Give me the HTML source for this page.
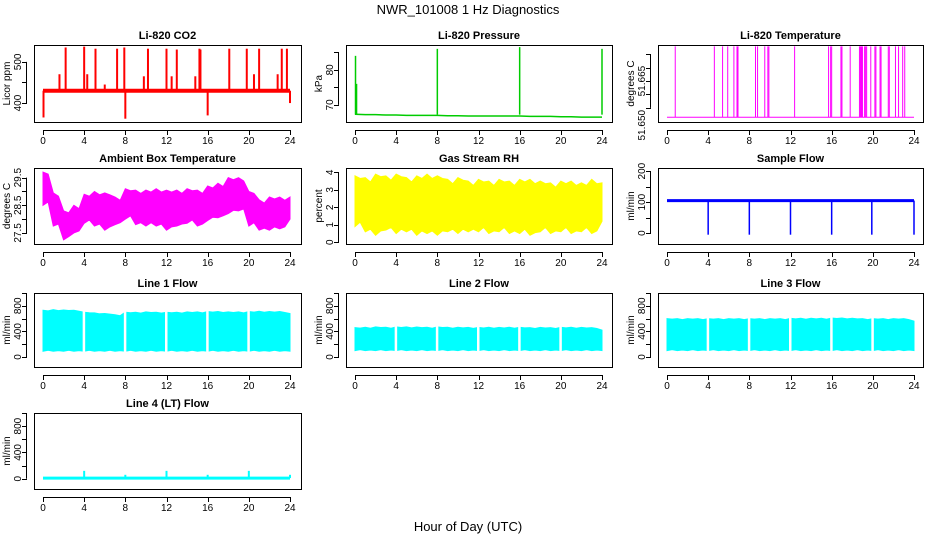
<!DOCTYPE html>
<html><head><meta charset="utf-8"><style>
html,body{margin:0;padding:0;background:#fff}
svg{display:block;font-family:"Liberation Sans",Arial,sans-serif}
</style></head><body>
<svg id="c" width="936" height="540" viewBox="0 0 936 540">
<text x="468" y="14" text-anchor="middle" font-size="13">NWR_101008  1 Hz Diagnostics</text>
<text x="468" y="531" text-anchor="middle" font-size="13">Hour of Day (UTC)</text>
</svg>
<script>
// ---- data arrays ----
const xTicks = [0,4,8,12,16,20,24];
const hours = [0,1,2,3,4,5,6,7,8,9,10,11,12,13,14,15,16,17,18,19,20,21,22,23,24];
// CO2 (ppm)
const co2Base = 430;
const co2SpikeTimes = [0.05,1.6,2.2,4.0,4.3,5.1,6.0,7.2,7.9,8.0,9.8,10.2,12.0,12.5,13.0,14.8,15.2,15.3,16.0,18.1,19.8,20.5,21.0,22.8,23.2,23.7,24.0];
const co2SpikeVals  = [365,470,535,537,470,532,445,532,535,362,465,532,532,465,530,465,532,530,370,532,532,470,532,470,532,532,400];
// Pressure (kPa)
const presBase = [67.3,67.2,67.2,67.1,67.1,67.0,67.0,67.0,67.0,66.9,66.9,66.8,66.8,66.8,66.8,66.8,66.8,66.7,66.7,66.7,66.6,66.6,66.5,66.5,66.5];
const presSpikeTimes = [0.05,0.15,8.0,16.0,24.0];
const presSpikeVals  = [84,76,86,86.5,86];
// Li-820 temperature (deg C)
const tempBase = 51.6515;
const tempSpikeTimes = [0.8,4.6,5.4,5.9,6.5,6.8,6.9,8.6,8.8,9.5,9.8,9.9,12.4,15.7,15.9,16.0,16.9,17.0,17.8,18.7,18.8,18.9,19.0,19.2,19.3,19.4,19.8,20.2,20.3,20.7,20.8,21.5,21.6,22.2,22.5,22.9,23.1];
const tempSpikeVal = 51.678;
// Ambient box temperature hourly envelope
const ambHi = [29.7,28.95,28.3,28.5,28.9,29.0,28.95,28.8,29.1,29.05,29.05,29.1,29.05,29.05,29.1,29.05,29.2,29.3,29.5,29.5,29.0,28.7,28.8,28.8,28.8];
const ambLo = [28.5,27.75,27.25,27.5,27.85,27.75,27.6,27.8,28.0,27.8,27.75,27.75,27.6,27.75,27.85,27.75,27.95,28.05,28.2,28.3,27.75,27.6,27.6,27.65,28.0];
// Gas stream RH hourly envelope (percent)
const rhHi = [3.8,3.7,3.9,3.8,3.9,3.7,3.8,3.9,3.8,3.6,3.7,3.5,3.6,3.5,3.6,3.5,3.6,3.6,3.5,3.4,3.5,3.5,3.4,3.6,3.4];
const rhLo = [0.9,0.6,0.4,0.7,0.5,0.6,0.4,0.5,0.4,0.6,0.5,0.6,0.6,0.5,0.6,0.5,0.5,0.4,0.6,0.5,0.6,0.5,0.6,0.5,1.2];
// Sample flow (ml/min)
const sfBase = 105;
const sfDipTimes = [4.0,8.0,12.0,16.0,19.9,24.0];
const sfDipVals = [-5,-5,-5,-5,-5,-5];
// Line flows (ml/min)
const l1Top = [730,740,735,730,700,690,680,660,700,700,705,700,700,700,705,705,710,710,705,705,710,715,710,710,680];
const l2Top = [460,465,470,465,470,470,468,465,470,465,465,463,462,465,463,465,465,460,462,460,465,465,462,460,420];
const l3Top = [600,600,600,600,600,600,600,600,600,600,600,600,605,605,605,605,610,610,605,600,600,600,600,600,560];
const lineBottom = [90,100,100];
const lineGaps = [4,8,12,16,20];
// Line 4 (LT)
const l4Base = 10;
const l4SpikeTimes = [4,8,12,16,20,24];
const l4SpikeVals = [120,60,120,60,120,60];

// ---- drawing ----
const svg = document.getElementById('c');
const NS = 'http://www.w3.org/2000/svg';
function mk(tag, attrs, parent){
  const e = document.createElementNS(NS, tag);
  for (const k in attrs) e.setAttribute(k, attrs[k]);
  (parent||svg).appendChild(e);
  return e;
}
const cols = [[34,301,43,290],[346,612,355,602],[658,923,667,914]];
const rows = [[45,122],[168,244],[293,367],[413,489]];

function panel(name, col, row, title, ylab, dom, ticks, labels){
  const [bx0,bx1,x0,x1] = cols[col];
  const [by0,by1] = rows[row];
  const g = mk('g', {});
  
  
  const xs = h => x0 + (x1-x0)*h/24;
  const ys = v => by1 - (by1-by0)*(v-dom[0])/(dom[1]-dom[0]);
  const t = mk('text', {x:(bx0+bx1)/2, y:by0-6, 'text-anchor':'middle', 'font-size':11, 'font-weight':'bold'}, g);
  t.textContent = title;
  
  
  const yl = mk('text', {x:0, y:0, 'text-anchor':'middle', 'font-size':10, transform:`translate(${bx0-24},${(by0+by1)/2}) rotate(-90)`}, g);
  yl.textContent = ylab;
  
  
  const plot = mk('g', {}, g);
  
  
  const ax = mk('g', {stroke:'#000','stroke-width':1, fill:'none'}, g);
  
  
  mk('rect', {x:bx0+0.5, y:by0+0.5, width:bx1-bx0, height:by1-by0}, ax);
  mk('line', {x1:xs(0), x2:xs(24), y1:by1+8.5, y2:by1+8.5}, ax);
  xTicks.forEach(h=>{
    mk('line', {x1:Math.round(xs(h))+0.5, x2:Math.round(xs(h))+0.5, y1:by1+8, y2:by1+13}, ax);
    const l = mk('text', {x:xs(h), y:by1+22, 'text-anchor':'middle', 'font-size':10, fill:'#000', stroke:'none'}, g);
    l.textContent = h;
    
    
  });
  mk('line', {x1:bx0-7.5, x2:bx0-7.5, y1:ys(ticks[0]), y2:ys(ticks[ticks.length-1])}, ax);
  ticks.forEach(v=>{
    mk('line', {x1:bx0-12, x2:bx0-7, y1:Math.round(ys(v))+0.5, y2:Math.round(ys(v))+0.5}, ax);
  });
  labels.forEach(([v,s])=>{
    const l = mk('text', {x:0, y:0, 'text-anchor':'middle', 'font-size':10, transform:`translate(${bx0-13},${ys(v)}) rotate(-90)`}, g);
    l.textContent = s;
    
    
  });
  return {xs, ys, plot};
}

function spikes(p, base, times, vals, color, w){
  times.forEach((h,i)=>{
    const ln = mk('line', {x1:p.xs(h), x2:p.xs(h), y1:p.ys(base), y2:p.ys(vals[i]), stroke:color, 'stroke-width':w}, p.plot);
    
    
  });
}
function band(p, hi, lo, color, jag){
  let pts = [];
  for (let i=0;i<hi.length;i++){
    pts.push(`${p.xs(hours[i])},${p.ys(hi[i])}`);
    if (i<hi.length-1) pts.push(`${p.xs(hours[i]+0.5)},${p.ys(hi[i]-jag*(i%2?1:0.6))}`);
  }
  for (let i=lo.length-1;i>=0;i--){
    if (i<lo.length-1) pts.push(`${p.xs(hours[i]+0.5)},${p.ys(lo[i]+jag*(i%2?0.6:1))}`);
    pts.push(`${p.xs(hours[i])},${p.ys(lo[i])}`);
  }
  const pg = mk('polygon', {points:pts.join(' '), fill:color, stroke:color, 'stroke-width':1}, p.plot);
  
  
}

// CO2
let p = panel('co2', 0, 0, 'Li-820 CO2', 'Licor ppm', [354,541], [400,450,500], [[400,'400'],[500,'500']]);
mk('line', {x1:p.xs(0), x2:p.xs(24), y1:p.ys(co2Base), y2:p.ys(co2Base), stroke:'#f00','stroke-width':4}, p.plot);
spikes(p, co2Base, co2SpikeTimes, co2SpikeVals, '#f00', 2);

// Pressure
p = panel('pressure', 1, 0, 'Li-820 Pressure', 'kPa', [65.1,87.1], [70,75,80,85], [[70,'70'],[80,'80']]);
mk('polyline', {points:hours.map((h,i)=>`${p.xs(h)},${p.ys(presBase[i])}`).join(' '), fill:'none', stroke:'#0c0','stroke-width':1.5}, p.plot);
spikes(p, 67.2, presSpikeTimes, presSpikeVals, '#0c0', 1.5);

// Li-820 temperature
p = panel('li820-temp', 2, 0, 'Li-820 Temperature', 'degrees C', [51.6497,51.6785], [51.655,51.66,51.665,51.67,51.675], [[51.665,'51.665'],[51.6485,'51.650']]);
mk('line', {x1:p.xs(0), x2:p.xs(24), y1:p.ys(tempBase), y2:p.ys(tempBase), stroke:'#f0f','stroke-width':1}, p.plot);
spikes(p, tempBase, tempSpikeTimes, tempSpikeTimes.map(()=>tempSpikeVal), '#f0f', 1);

// Ambient
p = panel('ambient-temp', 0, 1, 'Ambient Box Temperature', 'degrees C', [27.1,29.85], [27.5,28,28.5,29,29.5], [[27.5,'27.5'],[28.5,'28.5'],[29.5,'29.5']]);
band(p, ambHi, ambLo, '#f0f', 0.12);

// RH
p = panel('rh', 1, 1, 'Gas Stream RH', 'percent', [-0.1,4.25], [0,1,2,3,4], [[0,'0'],[1,'1'],[2,'2'],[3,'3'],[4,'4']]);
band(p, rhHi, rhLo, '#ff0', 0.25);

// Sample flow
p = panel('sample-flow', 2, 1, 'Sample Flow', 'ml/min', [-35,210], [0,50,100,150,200], [[0,'0'],[100,'100'],[200,'200']]);
mk('line', {x1:p.xs(0), x2:p.xs(24), y1:p.ys(sfBase), y2:p.ys(sfBase), stroke:'#00f','stroke-width':3}, p.plot);
spikes(p, sfBase, sfDipTimes, sfDipVals, '#00f', 1.5);

// Line flows
const flowTicks = [0,200,400,600,800,1000];
const flowLabels = [[0,'0'],[400,'400'],[800,'800']];
function lineFlow(name, col, row, title, tops, bottom){
  const q = panel(name, col, row, title, 'ml/min', [-156,1000], flowTicks, flowLabels);
  band(q, tops, hours.map(()=>bottom), '#0ff', 15);
  lineGaps.forEach(h=>{
    const r = mk('rect', {x:q.xs(h)-1.5, y:q.ys(1000), width:2.5, height:q.ys(bottom-30)-q.ys(1000), fill:'#fff'}, q.plot);
    
    
  });
  return q;
}
lineFlow('line1-flow', 0, 2, 'Line 1 Flow', l1Top, lineBottom[0]);
lineFlow('line2-flow', 1, 2, 'Line 2 Flow', l2Top, lineBottom[1]);
lineFlow('line3-flow', 2, 2, 'Line 3 Flow', l3Top, lineBottom[2]);

// Line 4
p = panel('line4-flow', 0, 3, 'Line 4 (LT) Flow', 'ml/min', [-156,1000], flowTicks, flowLabels);
mk('line', {x1:p.xs(0), x2:p.xs(24), y1:p.ys(l4Base), y2:p.ys(l4Base), stroke:'#0ff','stroke-width':3}, p.plot);
spikes(p, l4Base, l4SpikeTimes, l4SpikeVals, '#0ff', 2);
</script>
</body></html>
